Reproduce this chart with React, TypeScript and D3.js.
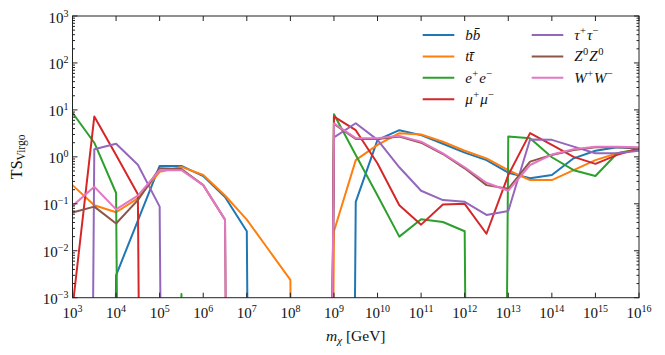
import React, { useEffect, useRef } from 'react'
import * as d3 from 'd3'

// dark matter mass grid, log10(m / GeV)
const massExponents = [3, 3.5, 4, 4.5, 5, 5.5, 6, 6.5, 7, 7.5, 8, 8.5, 9, 9.5, 10, 10.5, 11, 11.5, 12, 12.5, 13, 13.5, 14, 14.5, 15, 15.5, 16]

// TS values per channel (0 = off the bottom of the log axis)
const bbValues = [0, 0, 0.003, 0.044, 0.64, 0.64, 0.39, 0.14, 0.026, 0, 0, 0, 0, 0.11, 2.3, 3.7, 2.9, 1.9, 1.23, 0.85, 0.46, 0.35, 0.41, 0.93, 1.35, 1.6, 1.5]
const ttValues = [0.25, 0.093, 0.066, 0.13, 0.48, 0.61, 0.41, 0.15, 0.046, 0.0105, 0.0024, 0, 0.026, 0.85, 1.8, 3.2, 3.0, 2.1, 1.35, 0.93, 0.52, 0.32, 0.32, 0.52, 0.85, 1.19, 1.45]
const eeValues = [8.7, 2.0, 0.17, 0, 0, 0.0012, 0, 0, 0, 0, 0, 0, 8.1, 1.1, 0.15, 0.02, 0.047, 0.041, 0.026, 0, 2.7, 2.5, 0.98, 0.52, 0.39, 1.19, 1.45]
const mumuValues = [0.0006, 7.2, 1.1, 0.16, 0, 0, 0, 0, 0, 0, 0, 0, 7.2, 3.7, 0.72, 0.093, 0.036, 0.097, 0.1, 0.023, 0.41, 3.2, 1.8, 1.0, 0.71, 1.1, 1.5]
const tautauValues = [0, 1.45, 1.9, 0.68, 0.087, 0, 0, 0, 0, 0, 0, 0, 2.6, 5.2, 2.3, 0.6, 0.19, 0.12, 0.11, 0.058, 0.07, 2.35, 2.3, 1.65, 1.19, 1.19, 1.35]
const zzValues = [0.065, 0.087, 0.038, 0.12, 0.57, 0.55, 0.25, 0.046, 0, 0, 0, 0, 5.0, 2.4, 2.4, 2.7, 2.0, 1.15, 0.57, 0.25, 0.21, 0.79, 1.1, 1.4, 1.6, 1.6, 1.55]
const wwValues = [0.09, 0.23, 0.076, 0.15, 0.52, 0.52, 0.25, 0.046, 0, 0, 0, 0, 5.2, 2.5, 2.5, 2.8, 2.1, 1.19, 0.6, 0.28, 0.19, 0.67, 1.12, 1.45, 1.65, 1.65, 1.6]

// legend labels: [base, superscript] pieces
const channelLabels = [
  [['b', ''], ['b̄', '']],
  [['t', ''], ['t̄', '']],
  [['e', '+'], ['e', '−']],
  [['μ', '+'], ['μ', '−']],
  [['τ', '+'], ['τ', '−']],
  [['Z', '0'], ['Z', '0']],
  [['W', '+'], ['W', '−']],
]
const channelColors = ['#1f77b4', '#ff7f0e', '#2ca02c', '#d62728', '#9467bd', '#8c564b', '#e377c2']

const xTickExponents = [3, 4, 5, 6, 7, 8, 9, 10, 11, 12, 13, 14, 15, 16]
const yTickExponents = [-3, -2, -1, 0, 1, 2, 3]

const App = () => {
  const ref = useRef(null)

  useEffect(() => {
    const left = 72.5
    const right = 639
    const top = 16
    const bottom = 297.7
    const font = "'Liberation Serif', 'DejaVu Serif', serif"

    const svg = d3.select(ref.current)
    svg.selectAll('*').remove()

    const x = d3.scaleLog().domain([1e3, 1e16]).range([left, right])
    const y = d3.scaleLog().domain([1e-3, 1e3]).range([bottom, top])

    const series = [bbValues, ttValues, eeValues, mumuValues, tautauValues, zzValues, wwValues]

    svg
      .append('clipPath')
      .attr('id', 'plot-clip')
      .append('rect')
      .attr('x', left)
      .attr('y', top)
      .attr('width', right - left)
      .attr('height', bottom - top)

    const line = d3
      .line()
      .x((d) => x(Math.pow(10, d[0])))
      .y((d) => y(Math.max(d[1], 1e-60)))

    svg
      .append('g')
      .attr('clip-path', 'url(#plot-clip)')
      .selectAll('path')
      .data(series)
      .enter()
      .append('path')
      .attr('d', (vals) => line(vals.map((v, i) => [massExponents[i], v])))
      .attr('fill', 'none')
      .attr('stroke', (d, i) => channelColors[i])
      .attr('stroke-width', 2)
      .attr('stroke-linejoin', 'round')

    // ticks (inward, all sides)
    const tickColor = '#222'
    const xMajor = xTickExponents.map((e) => Math.pow(10, e))
    const yMajor = yTickExponents.map((e) => Math.pow(10, e))
    const yMinor = y.ticks().filter((t) => !yMajor.some((m) => Math.abs(m - t) / m < 1e-6))

    const ticks = svg.append('g').attr('stroke', tickColor).attr('stroke-width', 1)
    xMajor.forEach((v) => {
      const px = x(v)
      ticks.append('line').attr('x1', px).attr('x2', px).attr('y1', bottom).attr('y2', bottom - 5)
      ticks.append('line').attr('x1', px).attr('x2', px).attr('y1', top).attr('y2', top + 5)
    })
    yMajor.forEach((v) => {
      const py = y(v)
      ticks.append('line').attr('x1', left).attr('x2', left + 5).attr('y1', py).attr('y2', py)
      ticks.append('line').attr('x1', right).attr('x2', right - 5).attr('y1', py).attr('y2', py)
    })
    yMinor.forEach((v) => {
      const py = y(v)
      ticks.append('line').attr('x1', left).attr('x2', left + 2.5).attr('y1', py).attr('y2', py)
      ticks.append('line').attr('x1', right).attr('x2', right - 2.5).attr('y1', py).attr('y2', py)
    })

    svg
      .append('rect')
      .attr('x', left)
      .attr('y', top)
      .attr('width', right - left)
      .attr('height', bottom - top)
      .attr('fill', 'none')
      .attr('stroke', tickColor)
      .attr('stroke-width', 1)

    const powerLabel = (g, e) => {
      g.append('tspan').text('10')
      g.append('tspan')
        .attr('dy', -6)
        .style('font-size', '10px')
        .text(e < 0 ? '−' + Math.abs(e) : String(e))
    }

    xTickExponents.forEach((e) => {
      const t = svg
        .append('text')
        .attr('x', x(Math.pow(10, e)))
        .attr('y', 318)
        .attr('text-anchor', 'middle')
        .style('font-family', font)
        .style('font-size', '15px')
        .attr('fill', '#111')
      powerLabel(t, e)
    })

    yTickExponents.forEach((e) => {
      const t = svg
        .append('text')
        .attr('x', 68.5)
        .attr('y', y(Math.pow(10, e)) + 6.5)
        .attr('text-anchor', 'end')
        .style('font-family', font)
        .style('font-size', '15px')
        .attr('fill', '#111')
      powerLabel(t, e)
    })

    // axis titles
    const xt = svg
      .append('text')
      .attr('x', (left + right) / 2)
      .attr('y', 341)
      .attr('text-anchor', 'middle')
      .style('font-family', font)
      .style('font-size', '15.5px')
      .attr('fill', '#111')
    xt.append('tspan').style('font-style', 'italic').text('m')
    xt.append('tspan').attr('dy', 3).style('font-size', '11px').style('font-style', 'italic').text('χ')
    xt.append('tspan').attr('dy', -3).text('\u00a0[GeV]')

    const yt = svg
      .append('text')
      .attr('transform', `translate(22,${(top + bottom) / 2}) rotate(-90)`)
      .attr('text-anchor', 'middle')
      .style('font-family', font)
      .style('font-size', '16px')
      .attr('fill', '#111')
    yt.append('tspan').text('TS')
    yt.append('tspan').attr('dy', 3).style('font-size', '11.5px').text('Virgo')

    // legend, two columns
    const legendRows = 4
    const rowStep = 21.4
    channelLabels.forEach((parts, i) => {
      const col = Math.floor(i / legendRows)
      const row = i % legendRows
      const lx = col === 0 ? 422.7 : 531.7
      const ly = 35 + row * rowStep
      svg
        .append('line')
        .attr('x1', lx)
        .attr('x2', lx + 31.6)
        .attr('y1', ly)
        .attr('y2', ly)
        .attr('stroke', channelColors[i])
        .attr('stroke-width', 2)
      const t = svg
        .append('text')
        .attr('x', lx + 42.5)
        .attr('y', ly + 5)
        .style('font-family', font)
        .style('font-size', '15px')
        .style('font-style', 'italic')
        .attr('fill', '#111')
      let raised = false
      parts.forEach(([base, sup]) => {
        t.append('tspan')
          .attr('dy', raised ? 6 : 0)
          .attr('dx', raised ? 1 : 0)
          .text(base)
        raised = false
        if (sup) {
          t.append('tspan')
            .attr('dy', -6)
            .attr('dx', 0.5)
            .style('font-size', '10.5px')
            .style('font-style', 'normal')
            .text(sup)
          raised = true
        }
      })
    })
  }, [])

  return <svg ref={ref} width={665} height={355} style={{ position: 'absolute', left: 0, top: 0 }} />
}

export default App
